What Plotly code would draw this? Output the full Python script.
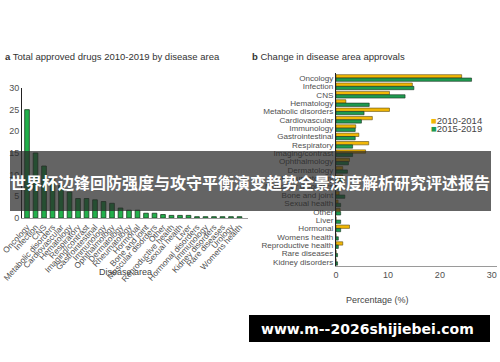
import plotly.graph_objects as go

# ---- data: panel a ----
a_categories = ["Oncology", "Infection", "CNS", "Metabolic disorders", "Cardiovascular",
                "Hematology", "Respiratory", "Imaging/contrast", "Gastrointestinal",
                "Immunology", "Ophthalmology", "Dermatology", "Rheumatology", "Hormonal",
                "Bone and joint", "Muscular disorders", "Other", "Reproductive health",
                "Sexual health", "Liver", "Hormonal disorders", "Immunology ",
                "Kidney disorders", "Rare diseases", "Urology", "Womens health"]
a_values = [25, 15, 12, 9, 7.5, 6, 4.5, 4.5, 4.2, 3.8, 3.4, 2.3, 1.8, 1.8,
            1.1, 1.1, 0.8, 0.6, 0.6, 0.6, 0.3, 0.3, 0.3, 0.3, 0.3, 0.3]
a_yticks = [0, 5, 10, 15, 20, 25, 30]

# ---- data: panel b ----
b_categories = ["Oncology", "Infection", "CNS", "Hematology", "Metabolic disorders",
                "Cardiovascular", "Immunology", "Gastrointestinal", "Respiratory",
                "Imaging/contrast", "Ophthalmology", "Dermatology", "Rheumatology",
                "Muscular disorders", "Bone and joint", "Sexual health", "Other", "Liver",
                "Hormonal", "Womens health", "Reproductive health", "Rare diseases",
                "Kidney disorders"]
b_series = ["2010-2014", "2015-2019"]
b_2010_2014 = [24.2, 14.7, 10.3, 1.9, 10.3, 7.0, 3.8, 4.4, 6.3, 5.7, 2.6, 1.3, 1.3,
               0.6, 0.6, 0.4, 0.8, 0.0, 2.6, 0.0, 1.3, 0.0, 0.0]
b_2015_2019 = [26.1, 15.0, 13.3, 6.4, 5.4, 4.9, 3.7, 3.7, 3.2, 3.2, 2.4, 2.2, 1.5,
               1.0, 1.7, 0.9, 0.9, 0.9, 0.9, 0.45, 0.45, 0.3, 0.3]
b_xticks = [0, 10, 20, 30]

W, H = 500, 362
def px(x): return x / W
def py(y): return 1 - y / H

FONT = "Liberation Sans, Arial, sans-serif"
GRAY = "#505050"
YELLOW = "#f2b705"
GREEN = "#1e9a50"
fig = go.Figure()

fig.add_trace(go.Bar(
    x=list(range(len(a_categories))), y=a_values,
    marker=dict(color="#22b04b", line=dict(color="#1c3a22", width=0.8)),
    width=0.55, xaxis="x", yaxis="y", showlegend=False))

fig.add_trace(go.Bar(
    y=b_categories, x=b_2010_2014, orientation="h", name=b_series[0],
    marker=dict(color=YELLOW, line=dict(color="#5a4a10", width=0.6)),
    xaxis="x2", yaxis="y2", showlegend=False))
fig.add_trace(go.Bar(
    y=b_categories, x=b_2015_2019, orientation="h", name=b_series[1],
    marker=dict(color=GREEN, line=dict(color="#1a3020", width=0.6)),
    xaxis="x2", yaxis="y2", showlegend=False))

fig.update_layout(
    width=W, height=H, margin=dict(l=0, r=0, t=0, b=0, autoexpand=False),
    paper_bgcolor="white", plot_bgcolor="white",
    barmode="group", bargap=0.2, bargroupgap=0.0,
    font=dict(family=FONT, color=GRAY, size=9),
    xaxis=dict(domain=[px(22), px(248)], range=[-0.59, 26], automargin=False,
               tickmode="array", tickvals=list(range(len(a_categories))),
               ticktext=[c.strip() for c in a_categories], tickangle=-48,
               tickfont=dict(size=8.3, color=GRAY), showgrid=False, zeroline=False,
               showline=True, linecolor="#9a9a9a", linewidth=1.2, ticks="",
               anchor="y"),
    yaxis=dict(domain=[py(218), py(88)], range=[0, 30], tickvals=a_yticks,
               automargin=False,
               showgrid=False, zeroline=False, showline=True, linecolor="#222",
               linewidth=1, ticks="", tickfont=dict(size=9, color=GRAY), anchor="x"),
    xaxis2=dict(domain=[px(336), px(497)], range=[0, 31], tickvals=b_xticks,
                automargin=False,
                showgrid=False, zeroline=False, showline=True, linecolor="#9a9a9a",
                linewidth=1.2, ticks="", tickfont=dict(size=9, color=GRAY), anchor="y2"),
    yaxis2=dict(domain=[py(266), py(73)], range=[22.5, -0.6], showgrid=False,
                automargin=False,
                zeroline=False, showline=True, linecolor="#222", linewidth=1,
                ticks="", tickfont=dict(size=8.1, color=GRAY), anchor="x2",
                type="category", tickmode="array", tickvals=b_categories,
                ticktext=b_categories),
)

annots = [
    dict(x=px(3), y=py(57), text="<b>a</b> Total approved drugs 2010-2019 by disease area",
         xanchor="left", yanchor="middle", font=dict(size=9.5, color="#333")),
    dict(x=px(250), y=py(57), text="<b>b</b> Change in disease area approvals",
         xanchor="left", yanchor="middle", font=dict(size=9.5, color="#333")),
    dict(x=px(125), y=py(272), text="Disease area", xanchor="center", yanchor="middle",
         font=dict(size=9, color="#444")),
    dict(x=px(377), y=py(300), text="Percentage (%)", xanchor="center", yanchor="middle",
         font=dict(size=9, color="#444")),
    dict(x=px(429), y=py(120), text=f"<span style='color:{YELLOW}'>■</span>{b_series[0]}",
         xanchor="left", yanchor="middle", font=dict(size=9.5, color="#444")),
    dict(x=px(429), y=py(129), text=f"<span style='color:{GREEN}'>■</span>{b_series[1]}",
         xanchor="left", yanchor="middle", font=dict(size=9.5, color="#444")),
    dict(x=px(250), y=py(182), text="<b>世界杯边锋回防强度与攻守平衡演变趋势全景深度解析研究评述报告</b>",
         xanchor="center", yanchor="middle",
         font=dict(size=16, color="white", family="Noto Sans CJK SC")),
    dict(x=px(367), y=py(329), text="<b>www.m--2026shijiebei.com</b>",
         xanchor="center", yanchor="middle",
         font=dict(size=14, color="white", family="DejaVu Sans, sans-serif")),
]
for a in annots:
    a.update(xref="paper", yref="paper", showarrow=False)
fig.update_layout(annotations=annots)

fig.update_layout(shapes=[
    dict(type="rect", xref="paper", yref="paper", x0=px(10), x1=px(491),
         y0=py(211), y1=py(151), fillcolor="rgba(40,40,40,0.72)", line=dict(width=0),
         layer="above"),
    dict(type="rect", xref="paper", yref="paper", x0=px(249), x1=px(490),
         y0=py(342), y1=py(315), fillcolor="black", line=dict(width=0), layer="above"),
])

fig.write_html("out.html", config={"displayModeBar": False},
               post_script="document.body.style.margin='0';")
